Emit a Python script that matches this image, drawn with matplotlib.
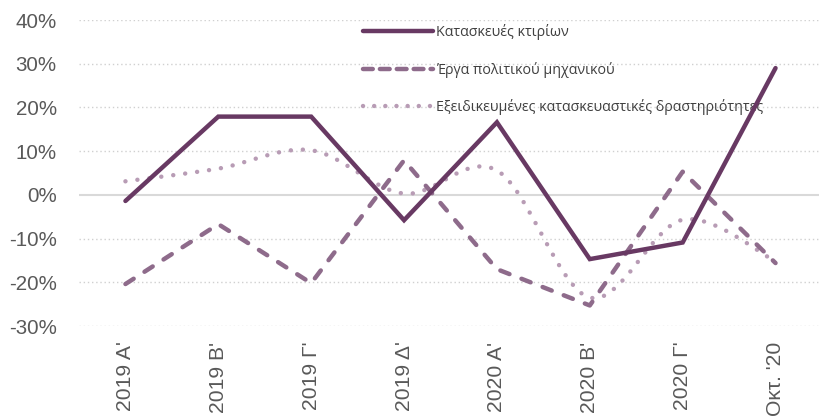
import matplotlib
matplotlib.use("Agg")
import matplotlib.pyplot as plt
from matplotlib.path import Path
from matplotlib.patches import PathPatch
from matplotlib.lines import Line2D
import numpy as np

categories = ["2019 Α'", "2019 Β'", "2019 Γ'", "2019 Δ'", "2020 Α'", "2020 Β'", "2020 Γ'", "Οκτ. '20"]
buildings = [-1.4, 17.9, 17.9, -5.8, 16.6, -14.7, -10.9, 29.0]
civil = [-20.4, -6.7, -20.2, 7.9, -17.0, -25.3, 5.3, -15.6]
specialised = [3.1, 6.0, 10.2, 0.3, 5.6, -23.5, -5.7, -15.2]
series_names = ["Κατασκευές κτιρίων", "Έργα πολιτικού μηχανικού",
                "Εξειδικευμένες κατασκευαστικές δραστηριότητες"]
yticks = [-30, -20, -10, 0, 10, 20, 30, 40]

c_solid = "#683963"
c_dash = "#8e6b8b"
c_dot = "#b89cb5"

fig = plt.figure(figsize=(8.19, 4.16), dpi=100)
ax = fig.add_axes([79/819, 1-326/416, 740/819, (326-20)/416])

x = np.arange(len(categories))

def smooth_path(xs, ys):
    pts = np.column_stack([xs, ys]).astype(float)
    n = len(pts)
    verts = [pts[0]]
    codes = [Path.MOVETO]
    for i in range(n-1):
        p0 = pts[i-1] if i > 0 else pts[i]
        p1 = pts[i]
        p2 = pts[i+1]
        p3 = pts[i+2] if i+2 < n else pts[i+1]
        c1 = p1 + (p2 - p0) / 6.0
        c2 = p2 - (p3 - p1) / 6.0
        verts += [c1, c2, p2]
        codes += [Path.CURVE4]*3
    return Path(verts, codes)

# grid
for t in yticks:
    if t == 0:
        ax.axhline(0, color="#d9d9d9", lw=1.5, zorder=1)
    else:
        ax.axhline(t, color="#d0d0d0", lw=1.0, ls=(0, (1, 2)), zorder=1)

lw = 3.2
ax.plot(x, buildings, color=c_solid, lw=lw, solid_capstyle="round",
        solid_joinstyle="miter", zorder=4)
ax.plot(x, civil, color=c_dash, lw=lw, ls=(0, (2.2, 2.9)),
        dash_capstyle="round", dash_joinstyle="round", zorder=3)
p_dot = PathPatch(smooth_path(x, specialised), fill=False, edgecolor=c_dot, lw=lw,
                  linestyle=(0, (0.01, 2.7)), capstyle="round", zorder=2)
ax.add_patch(p_dot)

ax.set_xlim(-0.5, 7.468)
ax.set_ylim(-30, 40)
ax.set_yticks(yticks)
ax.set_yticklabels([f"{t}%" for t in yticks], fontsize=14.8, color="#595959",
                   fontfamily="Liberation Sans")
ax.set_xticks(x)
ax.set_xticklabels(categories, rotation=90, fontsize=15.2, color="#595959",
                   fontfamily="Liberation Sans")
ax.tick_params(length=0)
ax.tick_params(axis="y", pad=16)
ax.tick_params(axis="x", pad=11.2)
for s in ax.spines.values():
    s.set_visible(False)

handles = [
    Line2D([], [], color=c_solid, lw=lw, solid_capstyle="round"),
    Line2D([], [], color=c_dash, lw=lw, ls=(0, (2.2, 1.6)), dash_capstyle="round"),
    Line2D([], [], color=c_dot, lw=lw, ls=(0, (0.01, 2.5)), dash_capstyle="round"),
]
leg = ax.legend(handles, series_names, loc="upper left",
                bbox_to_anchor=(351/819, 1 - 12/416),
                bbox_transform=fig.transFigure, frameon=False,
                prop={"family": "Open Sans", "size": 10.3},
                handlelength=4.9, handletextpad=0.23, labelspacing=1.52,
                borderaxespad=0, borderpad=0.83)
leg.set_zorder(3.5)
for t in leg.get_texts():
    t.set_color("#404040")

fig.savefig("out.png", dpi=100)
